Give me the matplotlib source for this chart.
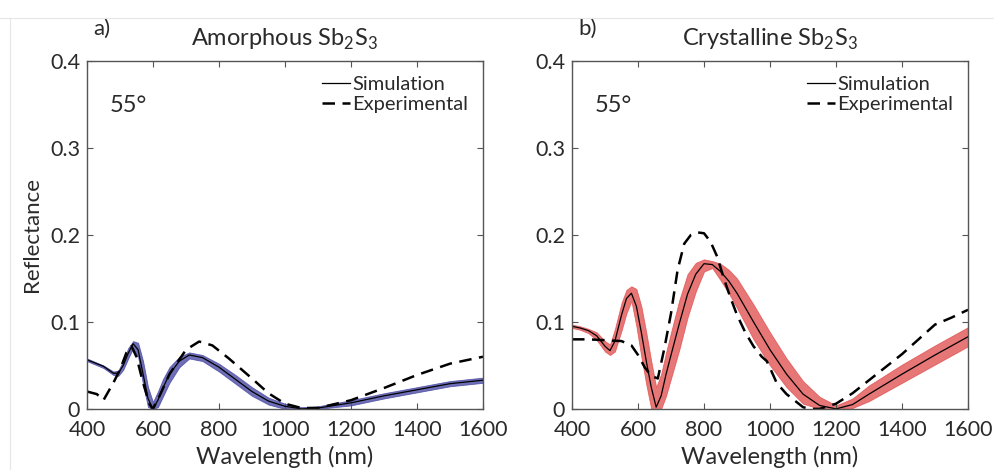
import numpy as np
import matplotlib
matplotlib.use("Agg")
import matplotlib.pyplot as plt
from matplotlib.lines import Line2D

plt.rcParams['font.family'] = ['Lato', 'DejaVu Sans']
plt.rcParams['mathtext.fontset'] = 'custom'
plt.rcParams['mathtext.rm'] = 'Lato'

# ---- a) amorphous Sb2S3 ----
wl_a = [400, 450, 480, 495, 510, 525, 540, 555, 570, 585, 600, 615, 630, 650,
        680, 710, 750, 800, 850, 900, 950, 1000, 1050, 1100, 1200, 1300, 1400,
        1500, 1600]
sim_a = [0.0565, 0.049, 0.041, 0.041, 0.050, 0.064, 0.075, 0.068, 0.040, 0.012,
         0.000, 0.010, 0.024, 0.040, 0.055, 0.062, 0.059, 0.048, 0.034, 0.020,
         0.009, 0.003, 0.000, 0.001, 0.007, 0.015, 0.022, 0.029, 0.033]
sim_a_hi = [0.058, 0.050, 0.043, 0.044, 0.056, 0.070, 0.078, 0.076, 0.055, 0.025,
            0.008, 0.020, 0.034, 0.048, 0.060, 0.065, 0.062, 0.052, 0.039, 0.025,
            0.013, 0.006, 0.002, 0.003, 0.010, 0.018, 0.025, 0.032, 0.036]
sim_a_lo = [0.055, 0.047, 0.039, 0.038, 0.045, 0.058, 0.070, 0.060, 0.028, 0.002,
            0.000, 0.002, 0.014, 0.030, 0.048, 0.058, 0.055, 0.043, 0.029, 0.015,
            0.005, 0.000, 0.000, 0.000, 0.004, 0.012, 0.019, 0.026, 0.030]
exp_wl_a = [400, 430, 450, 480, 500, 520, 535, 550, 570, 590, 600, 620, 650, 700,
            740, 780, 830, 900, 950, 1000, 1050, 1100, 1200, 1300, 1400, 1500, 1600]
exp_a = [0.020, 0.017, 0.010, 0.030, 0.045, 0.065, 0.072, 0.060, 0.030, 0.005,
         0.000, 0.015, 0.040, 0.068, 0.0775, 0.073, 0.058, 0.035, 0.018, 0.006,
         0.001, 0.001, 0.010, 0.024, 0.039, 0.052, 0.060]

# ---- b) crystalline Sb2S3 ----
wl_b = [400, 425, 450, 475, 500, 515, 530, 550, 565, 580, 595, 610, 625, 640, 655,
        670, 685, 700, 725, 750, 775, 800, 825, 850, 875, 900, 950, 1000, 1050,
        1100, 1150, 1200, 1250, 1300, 1400, 1500, 1600]
sim_b = [0.095, 0.093, 0.090, 0.084, 0.072, 0.067, 0.078, 0.108, 0.127, 0.133,
         0.118, 0.088, 0.055, 0.025, 0.002, 0.015, 0.040, 0.062, 0.098, 0.132,
         0.155, 0.167, 0.166, 0.158, 0.147, 0.133, 0.100, 0.068, 0.040, 0.017,
         0.004, 0.000, 0.005, 0.017, 0.040, 0.062, 0.083]
sim_b_hi = [0.097, 0.095, 0.092, 0.088, 0.078, 0.074, 0.092, 0.122, 0.137, 0.141,
            0.138, 0.118, 0.088, 0.055, 0.025, 0.040, 0.065, 0.088, 0.125, 0.155,
            0.168, 0.172, 0.170, 0.167, 0.160, 0.150, 0.120, 0.088, 0.058, 0.032,
            0.014, 0.004, 0.012, 0.027, 0.051, 0.073, 0.094]
sim_b_lo = [0.093, 0.091, 0.087, 0.079, 0.066, 0.062, 0.066, 0.090, 0.110, 0.124,
            0.095, 0.060, 0.028, 0.000, 0.000, 0.000, 0.015, 0.035, 0.068, 0.105,
            0.135, 0.158, 0.162, 0.148, 0.133, 0.116, 0.080, 0.050, 0.025, 0.006,
            0.000, 0.000, 0.001, 0.009, 0.030, 0.051, 0.072]
exp_wl_b = [400, 450, 500, 550, 580, 600, 620, 640, 660, 680, 700, 720, 740, 760,
            780, 800, 820, 840, 860, 880, 900, 925, 950, 975, 990, 1000, 1020,
            1050, 1080, 1100, 1120, 1150, 1200, 1250, 1300, 1350, 1400, 1450,
            1500, 1550, 1600]
exp_b = [0.080, 0.080, 0.079, 0.078, 0.073, 0.062, 0.048, 0.038, 0.035, 0.070,
         0.110, 0.160, 0.190, 0.200, 0.203, 0.202, 0.192, 0.175, 0.150, 0.128,
         0.108, 0.088, 0.072, 0.060, 0.055, 0.047, 0.030, 0.017, 0.008, 0.002,
         0.000, 0.000, 0.006, 0.018, 0.033, 0.048, 0.063, 0.080, 0.097, 0.105,
         0.114]

panels = [
    ("a)", "Amorphous Sb$_2$S$_3$", wl_a, sim_a, sim_a_lo, sim_a_hi, exp_wl_a, exp_a, "#3f3fa0"),
    ("b)", "Crystalline Sb$_2$S$_3$", wl_b, sim_b, sim_b_lo, sim_b_hi, exp_wl_b, exp_b, "#e04848"),
]

fig = plt.figure(figsize=(9.95, 4.7), dpi=100)
fig.add_artist(Line2D([0.0, 1.0], [0.962, 0.962], color="#e6e6e6", lw=0.8))
fig.add_artist(Line2D([0.010, 0.010], [0.0, 0.962], color="#e6e6e6", lw=0.8))

lefts = [0.0874, 0.5749]
for i, (tag, title, wl, sim, lo, hi, ewl, ex, col) in enumerate(panels):
    ax = fig.add_axes([lefts[i], 0.130, 0.398, 0.740])
    ax.fill_between(wl, lo, hi, color=col, alpha=0.75, lw=0.6, edgecolor=col)
    ax.plot(wl, sim, color="black", lw=0.9, label="Simulation")
    ax.plot(ewl, ex, color="black", lw=1.8, ls=(0, (5, 3)), label="Experimental")
    ax.set_xlim(400, 1600)
    ax.set_ylim(0, 0.4)
    ax.set_xticks([400, 600, 800, 1000, 1200, 1400, 1600])
    ax.set_yticks([0, 0.1, 0.2, 0.3, 0.4])
    ax.set_yticklabels(["0", "0.1", "0.2", "0.3", "0.4"])
    ax.tick_params(direction="in", top=True, right=True, length=4, width=0.8,
                   labelsize=15.5, colors="#555555", labelcolor="#2a2a2a")
    ax.tick_params(axis="x", pad=8)
    ax.tick_params(axis="y", pad=5)
    for s in ax.spines.values():
        s.set_color("#555555")
        s.set_linewidth(1.0)
    ax.set_xlabel("Wavelength (nm)", fontsize=17, color="#2a2a2a", labelpad=4)
    if i == 0:
        ax.set_ylabel("Reflectance", fontsize=16, color="#2a2a2a", labelpad=6)
    ax.set_title(title, fontsize=17, color="#2a2a2a", pad=11)
    ax.text(0.015, 1.065, tag, transform=ax.transAxes, fontsize=16,
            color="#2a2a2a", va="bottom")
    ax.text(0.058, 0.855, "55°", transform=ax.transAxes, fontsize=17,
            color="#2a2a2a", va="baseline")
    ax.legend(loc="upper right", frameon=False, fontsize=14.5, handlelength=1.4,
              handletextpad=0.1, borderaxespad=0.35, labelspacing=0.15,
              labelcolor="#2a2a2a")

fig.savefig("out.png", dpi=100)
